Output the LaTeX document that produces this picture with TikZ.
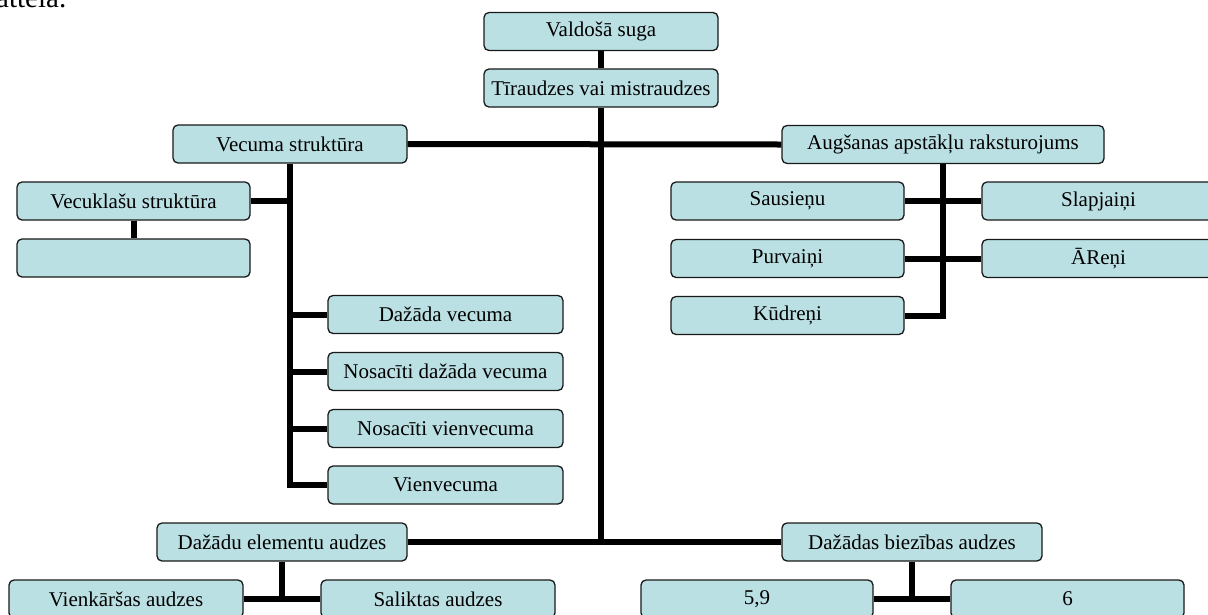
\documentclass[tikz,border=0pt]{standalone}
\usepackage{fontspec}
\setmainfont{Liberation Serif}
\usetikzlibrary{positioning}
\definecolor{boxfill}{RGB}{187,224,227}

\begin{document}
\begin{tikzpicture}[x=1pt,y=-1pt,
  box/.style={draw=black!90,line width=1.3pt,fill=boxfill,rounded corners=5pt,
    minimum height=38pt,inner sep=0pt,font=\fontsize{21}{25}\selectfont},
  link/.style={line width=6pt,line join=miter}]
\useasboundingbox (0,0) rectangle (1208,614);
\clip (0,0) rectangle (1208,614);
\node[anchor=base west,inner sep=0pt,font=\fontsize{29}{33}\selectfont] (caption) at (-4,7) {attela.};
% top
\node[box,minimum width=234pt] (valdosa) at (601,31.5) {Valdošā suga};
\node[box,minimum width=234pt] (tirau) at (601,88) {Tīraudzes vai mistraudzes};
% left branch
\node[box,minimum width=234pt] (vecuma) at (290,144) {Vecuma struktūra};
\node[box,minimum width=233pt] (veckl) at (133.5,201) {Vecuklašu struktūra};
\node[box,minimum width=233pt] (blank) at (133.5,258) {};
\node[box,minimum width=235pt] (dazv) at (445.5,314.5) {Dažāda vecuma};
\node[box,minimum width=235pt] (nosdaz) at (445.5,371.5) {Nosacīti dažāda vecuma};
\node[box,minimum width=235pt] (nosvien) at (445.5,428.5) {Nosacīti vienvecuma};
\node[box,minimum width=235pt] (vienv) at (445.5,485) {Vienvecuma};
% right branch
\node[box,minimum width=322pt] (augs) at (943,144.5) {Augšanas apstākļu raksturojums};
\node[box,minimum width=233pt] (saus) at (787.5,201) {Sausieņu};
\node[box,minimum width=233pt] (slap) at (1098.5,201) {Slapjaiņi};
\node[box,minimum width=233pt] (purv) at (787.5,258.5) {Purvaiņi};
\node[box,minimum width=233pt] (aren) at (1098.5,258.5) {ĀReņi};
\node[box,minimum width=233pt] (kudr) at (787.5,315.5) {Kūdreņi};
% bottom
\node[box,minimum width=250pt] (dazel) at (282,542) {Dažādu elementu audzes};
\node[box,minimum width=260pt] (dazbiez) at (912,542) {Dažādas biezības audzes};
\node[box,minimum width=234pt] (vienk) at (126,599) {Vienkāršas audzes};
\node[box,minimum width=234pt] (salik) at (438,599) {Saliktas audzes};
\node[box,minimum width=232pt] (n59) at (757,599) {5,9};
\node[box,minimum width=233pt] (n6) at (1067.5,599) {6};
% connectors
\draw[link] (valdosa.south) -- (tirau.north);
\draw[link] (tirau.south) -- (tirau.south |- dazel.east);
\draw[link] (vecuma.east) -- (augs.west);
\draw[link] (dazel.east) -- (dazbiez.west);
\draw[link] (vecuma.south) |- (vienv.west);
\draw[link] (veckl.east) -- (veckl.east -| vecuma.south);
\draw[link] (dazv.west) -- (dazv.west -| vecuma.south);
\draw[link] (nosdaz.west) -- (nosdaz.west -| vecuma.south);
\draw[link] (nosvien.west) -- (nosvien.west -| vecuma.south);
\draw[link] (veckl.south) -- (blank.north);
\draw[link] (augs.south) |- (kudr.east);
\draw[link] (saus.east) -- (slap.west);
\draw[link] (purv.east) -- (aren.west);
\draw[link] (dazel.south) -- (dazel.south |- vienk.east);
\draw[link] (vienk.east) -- (salik.west);
\draw[link] (dazbiez.south) -- (dazbiez.south |- n59.east);
\draw[link] (n59.east) -- (n6.west);
\end{tikzpicture}
\end{document}
